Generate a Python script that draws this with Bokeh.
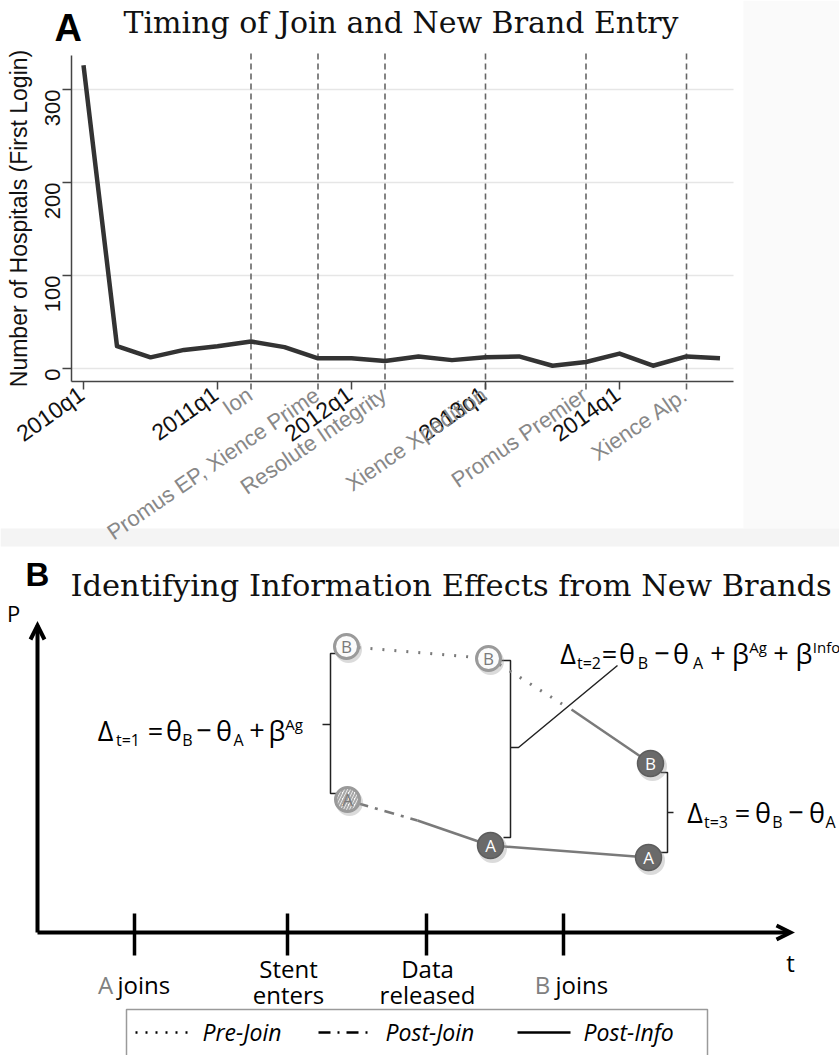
import math
from bokeh.plotting import figure
from bokeh.models import Range1d, FixedTicker, LinearAxis
from bokeh.embed import file_html
from bokeh.resources import INLINE
from bokeh.core.properties import value

# ---------------- Panel A data ----------------
quarters = ["2010q1", "2010q2", "2010q3", "2010q4",
            "2011q1", "2011q2", "2011q3", "2011q4",
            "2012q1", "2012q2", "2012q3", "2012q4",
            "2013q1", "2013q2", "2013q3", "2013q4",
            "2014q1", "2014q2", "2014q3", "2014q4"]
hospitals = [326, 24, 12, 20, 24, 29, 23, 11, 11, 8, 13, 9, 12, 13, 3, 7, 16, 3, 13, 11]
year_ticks = ["2010q1", "2011q1", "2012q1", "2013q1", "2014q1"]
brand_names = ["Ion", "Promus EP, Xience Prime", "Resolute Integrity",
               "Xience Xpedition", "Promus Premier", "Xience Alp."]
brand_quarters = ["2011q2", "2011q4", "2012q2", "2013q1", "2013q4", "2014q3"]
y_ticks = [0, 100, 200, 300]
y_title = "Number of Hospitals (First Login)"
title_a = "Timing of Join and New Brand Entry"

# ---------------- Panel B content ----------------
title_b = "Identifying Information Effects from New Brands"
event_labels = [("", "A", "joins"), ("Stent", "", "enters"), ("Data", "", "released"), ("", "B", "joins")]
event_x = [134, 287, 426, 563]
node_letters = ["B", "A", "B", "A", "B", "A"]
node_x = [346, 347, 488, 490, 650, 648]
node_y = [646, 799, 658, 845, 763, 857]
node_style = ["open", "hatch", "open", "dark", "dark", "dark"]
legend_names = ["Pre-Join", "Post-Join", "Post-Info"]

# ---------------- figure (page pixel frame) ----------------
W, H = 839, 1055
X0, DX = 83.0, 33.5      # pixel of first quarter, pixels per quarter (panel A)
Y0, DY = 368.0, 0.93     # pixel of value 0, pixels per unit (panel A)
BL = 0.38                # baseline correction (fraction of font size)


def qx(px):
    return (px - X0) / DX


def vy(py):
    return (Y0 - py) / DY


p = figure(width=W, height=H, toolbar_location=None, output_backend="svg",
           x_range=Range1d(0, W), y_range=Range1d(H, 0),
           x_axis_type=None, y_axis_type=None, min_border=0, outline_line_color=None)
p.background_fill_color = "white"
p.border_fill_color = "white"
p.extra_x_ranges = {"qa": Range1d(qx(0), qx(W))}
p.extra_y_ranges = {"va": Range1d(vy(H), vy(0))}

SANS = value("Open Sans")
ARIAL = value("Liberation Sans")


def btext(xs, ys, texts, size, **kw):
    """text placed on an alphabetic baseline at ys"""
    p.text(xs, [y - BL * size for y in ys], text=texts, text_font_size=f"{size}px",
           text_baseline="alphabetic", **kw)


# faint background bands of the original scan
p.quad(left=[743], right=[W], top=[0], bottom=[528], fill_color="#fafafa", line_color=None)
p.quad(left=[0], right=[W], top=[528], bottom=[546], fill_color="#f4f4f4", line_color=None)

# ---------------- Panel A ----------------
idx = list(range(len(quarters)))
year_pos = [quarters.index(q) for q in year_ticks]
brand_pos = [quarters.index(q) for q in brand_quarters]

p.segment(x0=[71] * len(y_ticks), x1=[733] * len(y_ticks), y0=y_ticks, y1=y_ticks,
          y_range_name="va", line_color="#e6e6e6", line_width=1.5)

xa = LinearAxis(x_range_name="qa", fixed_location=381,
                ticker=FixedTicker(ticks=year_pos),
                bounds=(qx(71), qx(733)))
xa.major_label_text_color = None
xa.minor_tick_line_color = None
xa.major_tick_out = 8
xa.major_tick_in = 0
xa.axis_line_color = "#444444"
xa.axis_line_width = 1.5
xa.major_tick_line_color = "#444444"
xa.major_tick_line_width = 1.5
p.add_layout(xa, "below")

ya = LinearAxis(y_range_name="va", fixed_location=71,
                ticker=FixedTicker(ticks=y_ticks), bounds=(vy(381), vy(55)),
                axis_label=y_title)
ya.minor_tick_line_color = None
ya.major_tick_out = 9
ya.major_tick_in = 0
ya.axis_line_color = "#444444"
ya.axis_line_width = 1.5
ya.major_tick_line_color = "#444444"
ya.major_tick_line_width = 1.5
ya.major_label_orientation = math.pi / 2
ya.major_label_text_font = "Liberation Sans"
ya.major_label_text_font_size = "22px"
ya.major_label_text_color = "#111111"
ya.major_label_standoff = 10
ya.axis_label_text_font = "Liberation Sans"
ya.axis_label_text_font_size = "23px"
ya.axis_label_text_font_style = "normal"
ya.axis_label_text_color = "#111111"
ya.axis_label_standoff = 3
p.add_layout(ya, "left")

p.segment(x0=brand_pos, x1=brand_pos, y0=[53] * len(brand_pos), y1=[389] * len(brand_pos),
          x_range_name="qa", line_color="#666666", line_dash="6 4", line_width=1.6)

p.line(idx, hospitals, x_range_name="qa", y_range_name="va",
       line_width=4.5, line_color="#333333", line_join="round")

# rotated tick labels: years (black) and brand entries (grey)
p.text([y - 0.06 for y in year_pos], [391] * len(year_pos), text=year_ticks,
       x_range_name="qa", angle=0.62, text_align="right", text_baseline="middle",
       text_font=ARIAL, text_font_size="23px", text_color="#111111")
p.text([b - 0.03 for b in brand_pos], [392] * len(brand_pos), text=brand_names,
       x_range_name="qa", angle=0.6, text_align="right", text_baseline="middle",
       text_font=ARIAL, text_font_size="22px", text_color="#888888")

btext([54], [42], ["A"], 38, text_font=ARIAL, text_font_style="bold",
      text_align="left", text_color="black")
btext([123], [33], [title_a], 30, text_font=value("DejaVu Serif"),
      text_align="left", text_color="#111111")

# ---------------- Panel B ----------------
btext([25], [587], ["B"], 33, text_font=ARIAL, text_font_style="bold",
      text_align="left", text_color="black")
btext([70], [597], [title_b], 30.5, text_font=value("DejaVu Serif"),
      text_align="left", text_color="#111111")

p.line([37, 37], [932, 625], line_width=4, line_color="black")
p.line([37, 789], [932, 932], line_width=4, line_color="black")
p.line([30, 37, 44], [639, 625, 639], line_width=4, line_color="black", line_join="miter")
p.line([776, 790, 776], [925, 932, 939], line_width=4, line_color="black", line_join="miter")
p.segment(x0=event_x, y0=[913] * 4, x1=event_x, y1=[955] * 4, line_width=3.5, line_color="black")
p.text([13], [612], text=["P"], text_font=SANS, text_font_size="22px",
       text_align="center", text_baseline="middle", text_color="black")
p.text([790], [962], text=["t"], text_font=SANS, text_font_size="24px",
       text_align="center", text_baseline="middle", text_color="black")

for (top, letter, word), ex in zip(event_labels, event_x):
    if letter:
        btext([ex - 29 if letter == "A" else ex - 21], [993], [letter], 24, text_font=SANS,
              text_align="center", text_color="#808080")
        btext([ex - 17 if letter == "A" else ex - 8], [993], [word], 24, text_font=SANS,
              text_align="left", text_color="black")
    else:
        btext([ex + 1, ex + 1], [977, 1003], [top, word], 24, text_font=SANS,
              text_align="center", text_color="black")

p.multi_line(xs=[[336, 330, 330, 338], [330, 322],
                 [498, 510, 510, 503], [510, 518, 617],
                 [660, 667, 667, 660], [667, 673]],
             ys=[[653, 653, 793, 793], [724, 724],
                 [660, 660, 837, 837], [747, 747, 665],
                 [772, 772, 852, 852], [812, 812]],
             line_color="#222222", line_width=1.5)

GR = "#7a7a7a"
p.multi_line(xs=[[358, 476], [499, 564]], ys=[[647, 657], [664, 705]],
             line_color=GR, line_width=3, line_dash="2 10")
p.line([358, 417], [803, 820], line_color=GR, line_width=2.5, line_dash="10 7 3 7")
p.multi_line(xs=[[571, 640], [417, 478], [503, 635]],
             ys=[[709, 756], [820, 841], [846, 856]],
             line_color=GR, line_width=2.5)

radius = [12 if s != "dark" else 13 for s in node_style]
p.circle([x + 2 for x in node_x], [y + 3 for y in node_y], radius=[r + 1.5 for r in radius],
         fill_color="#999999", fill_alpha=0.35, line_color=None)
for s in ["open", "hatch", "dark"]:
    ii = [i for i, st in enumerate(node_style) if st == s]
    xs = [node_x[i] for i in ii]
    ys = [node_y[i] for i in ii]
    rr = [radius[i] for i in ii]
    if s == "open":
        p.circle(xs, ys, radius=rr, fill_color="#fbfbfb", line_color="#9a9a9a", line_width=3)
    elif s == "hatch":
        p.circle(xs, ys, radius=rr, fill_color="#fbfbfb", line_color="#9a9a9a", line_width=3,
                 hatch_pattern="/", hatch_color="#a8a8a8", hatch_scale=6, hatch_weight=2)
    else:
        p.circle(xs, ys, radius=rr, fill_color="#6a6a6a", line_color="#5c5c5c", line_width=1.5)
p.text(node_x, [y for y in node_y], text=node_letters,
       text_color=["#7a7a7a" if s != "dark" else "white" for s in node_style],
       text_font=SANS, text_font_size="17px", text_align="center", text_baseline="middle")

formulas = [
    (740, [("Δ", 105, "m"), ("t=1", 127.5, "sub"), ("=", 155, "m"), ("θ", 173.5, "m"),
           ("B", 187, "sub"), ("−", 203.5, "m"), ("θ", 223.5, "m"), ("A", 238, "sub"),
           ("+", 256.5, "m"), ("β", 276.5, "m"), ("Ag", 293.5, "sup")]),
    (663, [("Δ", 567.5, "m"), ("t=2", 588.5, "sub"), ("=", 609, "m"), ("θ", 626.5, "m"),
           ("B", 642.5, "sub"), ("−", 661.5, "m"), ("θ", 680.5, "m"), ("A", 697.5, "sub"),
           ("+", 717.5, "m"), ("β", 740, "m"), ("Ag", 757.5, "sup"), ("+", 780.5, "m"),
           ("β", 803.5, "m"), ("Info", 826, "sup")]),
    (822, [("Δ", 694.5, "m"), ("t=3", 715.5, "sub"), ("=", 742, "m"), ("θ", 762.5, "m"),
           ("B", 777, "sub"), ("−", 795.5, "m"), ("θ", 816.5, "m"), ("A", 830, "sub")]),
]
style = {"m": (0, 27), "sub": (6, 16), "sup": (-11, 15)}
for base, pieces in formulas:
    for kind in ["m", "sub", "sup"]:
        sel = [q for q in pieces if q[2] == kind]
        if not sel:
            continue
        off, fs = style[kind]
        btext([q[1] for q in sel], [base + off] * len(sel), [q[0] for q in sel], fs,
              text_font=SANS, text_align="center", text_color="black")

p.quad(left=[126], right=[707], top=[1009], bottom=[1065], fill_color="white",
       line_color="#9a9a9a", line_width=1.5)
p.line([135, 190], [1032, 1032], line_color="black", line_width=2.5, line_dash="2 8")
p.line([318, 370], [1032, 1032], line_color="black", line_width=2.5, line_dash="12 7 2 7")
p.line([517, 570], [1032, 1032], line_color="black", line_width=2.5)
btext([202, 385, 583], [1040] * 3, legend_names, 23, text_font=SANS,
      text_font_style="italic", text_align="left", text_color="black")

open("out.html", "w").write(file_html(p, INLINE, "Timing of Join and New Brand Entry"))
